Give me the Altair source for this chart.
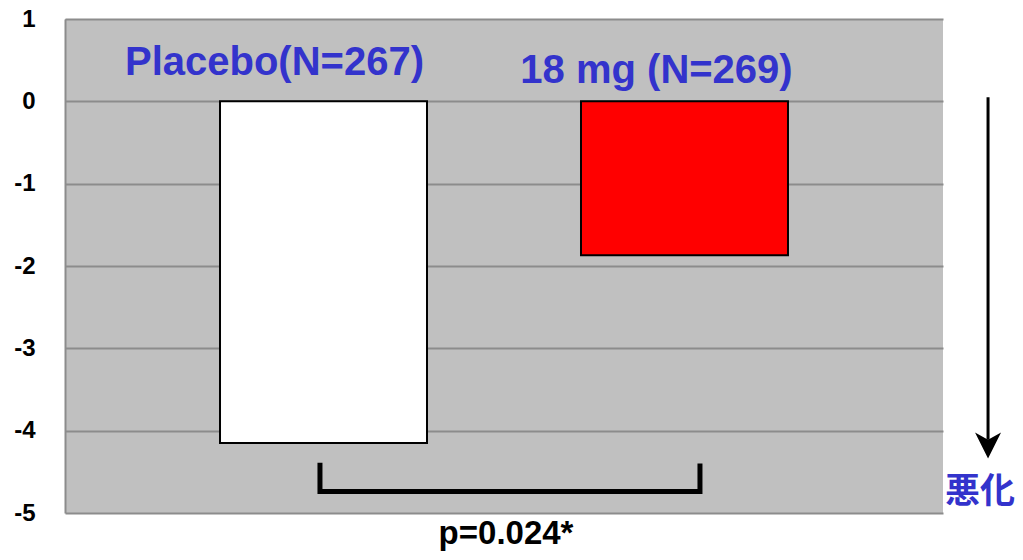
import altair as alt
import pandas as pd

# ---- data ----
groups = ["Placebo", "18 mg"]
changes = [-4.15, -1.87]
bar_colors = ["#FFFFFF", "#FF0000"]

label_texts = ["Placebo(N=267)", "18 mg (N=269)"]
label_x = [23.86, 67.37]          # annotation scale: percent of plot width
label_y = [0.32, 0.22]

bracket_x = [29.04, 29.04, 72.32, 72.32]
bracket_y = [-4.39, -4.74, -4.74, -4.40]
bracket_order = [0, 1, 2, 3]

arrow_x = [105.13]
arrow_y_top = [0.05]
arrow_y_end = [-4.11]
arrow_head_y = [-4.18]

worse_text = ["悪化"]
worse_x = [104.2]
worse_y = [-4.88]

p_text = ["p=0.024*"]
p_x = [50.23]
p_y = [-5.38]

y_ticks = [1, 0, -1, -2, -3, -4, -5]

BLUE = "#3333CC"
W, H = 878, 494

bars_df = pd.DataFrame({"group": groups, "change": changes, "color": bar_colors})
labels_df = pd.DataFrame({"text": label_texts, "x": label_x, "y": label_y})
bracket_df = pd.DataFrame({"x": bracket_x, "y": bracket_y, "o": bracket_order})
arrow_df = pd.DataFrame({"x": arrow_x, "y": arrow_y_top, "y2": arrow_y_end, "yh": arrow_head_y})
worse_df = pd.DataFrame({"text": worse_text, "x": worse_x, "y": worse_y})
p_df = pd.DataFrame({"text": p_text, "x": p_x, "y": p_y})

yscale = alt.Scale(domain=[-5, 1], nice=False, zero=False)
yaxis = alt.Axis(values=y_ticks, labelExpr="'' + datum.value", title=None, grid=True,
                 gridColor="#8c8c8c", gridWidth=2,
                 domain=True, domainColor="#8c8c8c", domainWidth=2, ticks=False,
                 labelFont="Liberation Sans", labelFontWeight="bold", labelFontSize=24,
                 labelColor="#000000", labelPadding=30)
ann_x = alt.Scale(domain=[0, 100], nice=False, zero=False)

bars = alt.Chart(bars_df).mark_bar(stroke="#000000", strokeWidth=2).encode(
    x=alt.X("group:N", sort=groups, axis=None,
            scale=alt.Scale(paddingInner=0.4266, paddingOuter=0.4294)),
    y=alt.Y("change:Q", scale=yscale, axis=yaxis),
    y2=alt.datum(0),
    fill=alt.Fill("color:N", scale=None),
)

labels = alt.Chart(labels_df).mark_text(
    font="Liberation Sans", fontWeight="bold", fontSize=40, color=BLUE,
    align="center", baseline="alphabetic"
).encode(
    x=alt.X("x:Q", scale=ann_x, axis=None),
    y=alt.Y("y:Q", scale=yscale),
    text="text:N",
)

bracket = alt.Chart(bracket_df).mark_line(
    color="#000000", strokeWidth=5, strokeJoin="miter", strokeCap="butt"
).encode(
    x=alt.X("x:Q", scale=ann_x, axis=None),
    y=alt.Y("y:Q", scale=yscale),
    order="o:Q",
)

arrow_line = alt.Chart(arrow_df).mark_rule(color="#000000", strokeWidth=3).encode(
    x=alt.X("x:Q", scale=ann_x, axis=None),
    y=alt.Y("y:Q", scale=yscale),
    y2="y2:Q",
)

arrow_head = alt.Chart(arrow_df).mark_point(
    shape="M0,1 L-1,-1 L0,-0.45 L1,-1 Z", filled=True, color="#000000",
    size=676, opacity=1
).encode(
    x=alt.X("x:Q", scale=ann_x, axis=None),
    y=alt.Y("yh:Q", scale=yscale),
)

worse = alt.Chart(worse_df).mark_text(
    font="Noto Sans CJK JP", fontWeight="bold", fontSize=35, color=BLUE,
    align="center", baseline="alphabetic"
).encode(
    x=alt.X("x:Q", scale=ann_x, axis=None),
    y=alt.Y("y:Q", scale=yscale),
    text="text:N",
)

ptext = alt.Chart(p_df).mark_text(
    font="Liberation Sans", fontWeight="bold", fontSize=33, color="#000000",
    align="center", baseline="alphabetic"
).encode(
    x=alt.X("x:Q", scale=ann_x, axis=None),
    y=alt.Y("y:Q", scale=yscale),
    text="text:N",
)

chart = alt.layer(bars, labels, bracket, arrow_line, arrow_head, worse, ptext).resolve_scale(
    x="independent"
).properties(
    width=W, height=H,
    autosize=alt.AutoSizeParams(type="none"),
    padding={"left": 57, "top": 11, "right": 72, "bottom": 39},
    background="#FFFFFF",
).configure_view(
    fill="#C0C0C0", stroke=None
)

chart.save("out.html", embed_options={"renderer": "svg", "actions": False})
